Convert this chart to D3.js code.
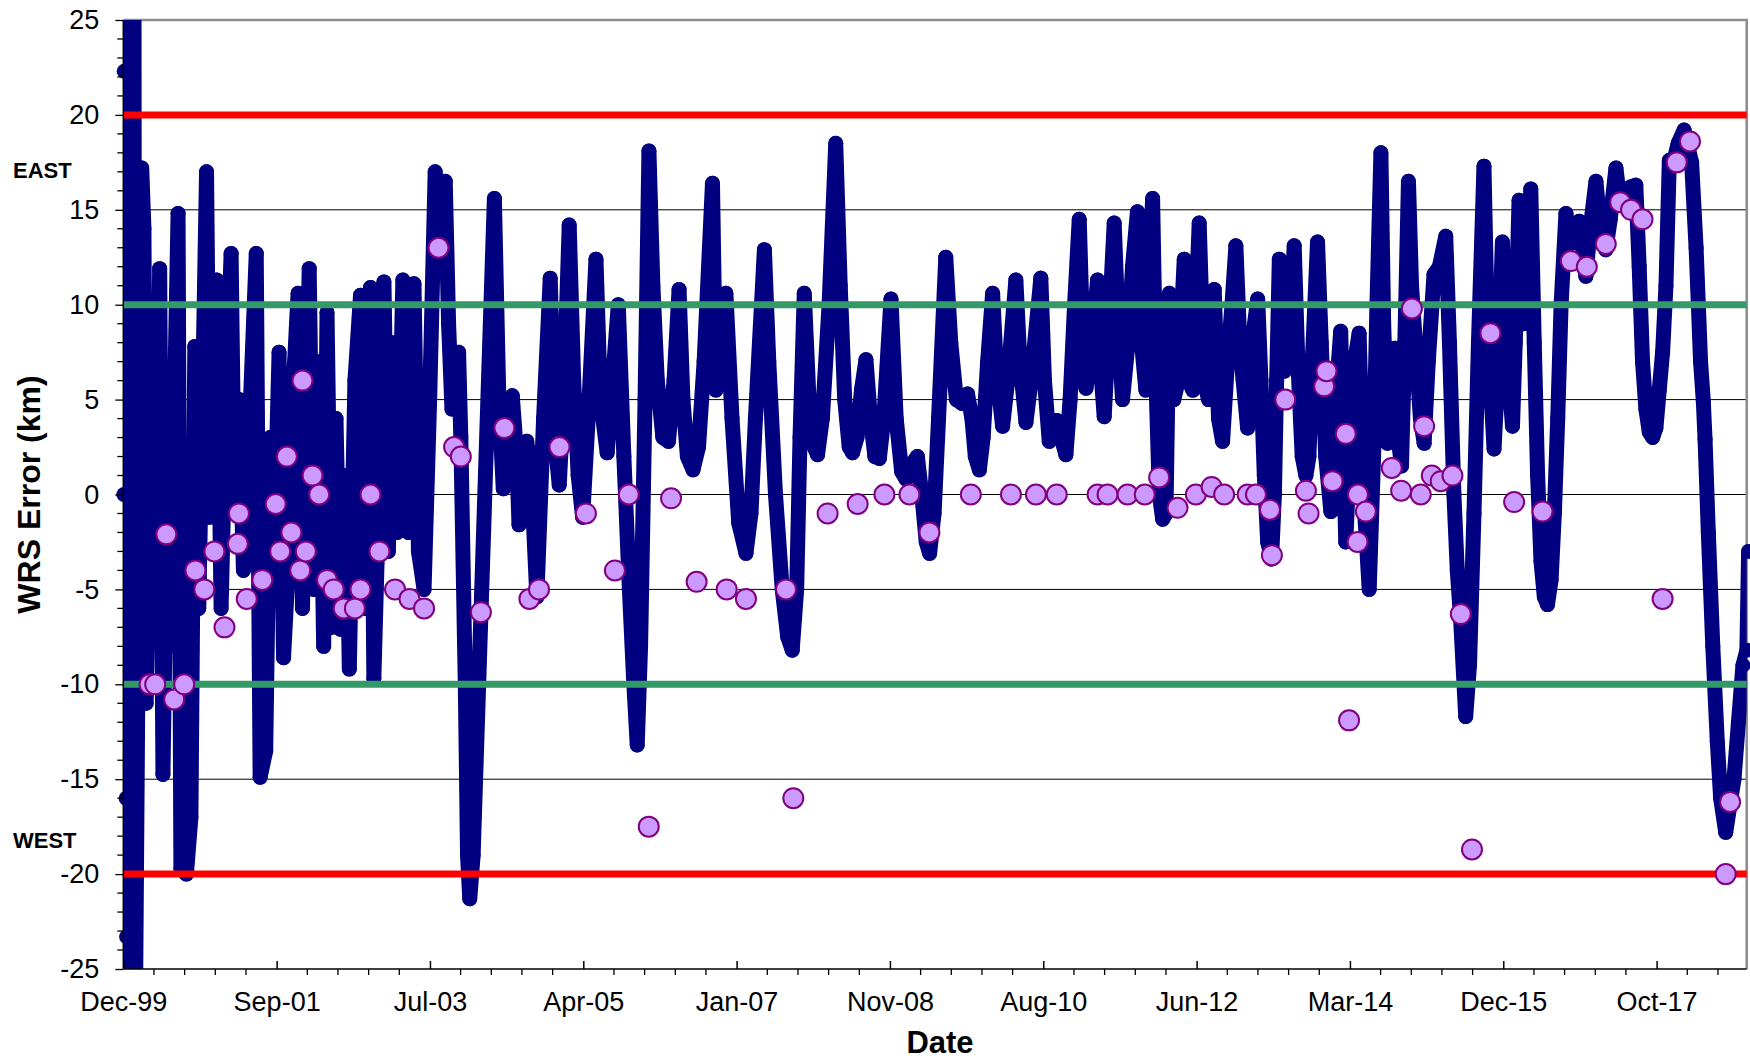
<!DOCTYPE html>
<html><head><meta charset="utf-8">
<script src="https://cdn.jsdelivr.net/npm/d3@7"></script>
<style>
body{margin:0;background:#fff;}
svg{display:block;}
text{font-family:"Liberation Sans",Arial,Helvetica,sans-serif;}
</style>
</head><body>
<svg id="chart" width="1750" height="1061"></svg>
<script>
// ---------------- DATA ----------------
const xTickLabels = ["Dec-99","Sep-01","Jul-03","Apr-05","Jan-07","Nov-08","Aug-10","Jun-12","Mar-14","Dec-15","Oct-17"];
const yTickValues = [-25,-20,-15,-10,-5,0,5,10,15,20,25];
const redLimits = [20,-20];
const greenLimits = [10,-10];
const sideLabels = ["EAST","WEST"];
const sideLabelValues = [16.7,-18.65];

// [decimal year, WRS error km]
const navyData = [
[1999.968,0],[1999.972,22.3],[1999.981,45],[1999.994,-16],[2000.000,-23.3],[2000.007,-45],[2000.046,45],[2000.072,-45],[2000.085,30],[2000.098,-30],
[2000.175,17.2],[2000.201,14],[2000.227,-11],[2000.279,3],[2000.318,-7],[2000.383,11.9],[2000.421,-14.75],[2000.473,1],[2000.512,-8],[2000.551,4],
[2000.596,14.8],[2000.629,-19.7],[2000.693,-20],[2000.745,-17],[2000.790,7.8],[2000.836,-6],[2000.875,4],[2000.926,17.0],[2000.965,-1.2],[2001.004,8],
[2001.043,11.3],[2001.095,-6],[2001.147,4],[2001.211,12.7],[2001.250,-1],[2001.302,5],[2001.354,-4],[2001.419,3],[2001.503,12.7],[2001.548,-14.9],
[2001.613,-13.5],[2001.665,3],[2001.703,-4],[2001.768,7.5],[2001.820,-8.6],[2001.885,-3],[2001.937,6],[2001.989,10.6],[2002.040,-6],[2002.118,11.9],
[2002.170,-5],[2002.234,7],[2002.286,-8],[2002.325,9.6],[2002.377,-7],[2002.429,4],[2002.481,-7.1],[2002.545,1],[2002.584,-9.2],[2002.649,6],
[2002.714,10.5],[2002.765,-6],[2002.830,10.9],[2002.869,-9.7],[2002.934,1],[2002.986,11.2],[2003.037,-3],[2003.102,8],[2003.141,-2],[2003.206,11.3],
[2003.271,-2],[2003.335,11.1],[2003.387,-3],[2003.452,-5],[2003.517,5],[2003.581,17],[2003.633,14],[2003.698,16.5],[2003.737,9],[2003.776,4.5],
[2003.815,5],[2003.853,7.5],[2003.879,3],[2003.931,-10],[2003.957,-19],[2003.983,-21.3],[2004.022,-19],[2004.268,15.6],[2004.320,5],[2004.371,0.3],
[2004.423,1],[2004.475,5.2],[2004.527,2],[2004.553,-1.6],[2004.591,1.5],[2004.643,2.8],[2004.695,1],[2004.760,-5.4],[2004.838,4],[2004.915,11.4],
[2004.967,3],[2005.019,0.5],[2005.071,5],[2005.135,14.2],[2005.187,6],[2005.239,1],[2005.291,-1.2],[2005.355,4],[2005.446,12.4],[2005.498,5],
[2005.576,2.2],[2005.640,6],[2005.705,10],[2005.770,2],[2005.834,-5],[2005.886,-10],[2005.925,-13.2],[2005.964,-8],[2006.016,5],[2006.061,18.1],
[2006.107,11],[2006.158,6],[2006.223,3],[2006.288,2.8],[2006.353,6],[2006.411,10.8],[2006.456,5],[2006.508,2],[2006.573,1.3],[2006.637,2.5],
[2006.702,7],[2006.799,16.4],[2006.838,5.5],[2006.884,7],[2006.955,10.6],[2007.026,4],[2007.104,-1.5],[2007.188,-3.1],[2007.246,-1],[2007.298,4],
[2007.402,12.9],[2007.453,7],[2007.531,0],[2007.609,-5],[2007.673,-7.5],[2007.725,-8.2],[2007.777,-5],[2007.816,3],[2007.865,10.6],[2007.920,5],
[2007.971,2.6],[2008.019,2.1],[2008.075,4],[2008.153,10],[2008.230,18.5],[2008.282,11],[2008.334,5],[2008.386,2.5],[2008.425,2.2],[2008.476,3],
[2008.528,5.5],[2008.580,7.1],[2008.632,4],[2008.684,2],[2008.735,1.9],[2008.787,4],[2008.870,10.3],[2008.930,4],[2008.994,1.2],[2009.046,0.8],
[2009.111,1.6],[2009.176,2],[2009.227,0],[2009.279,-2.5],[2009.318,-3.1],[2009.370,-1],[2009.422,4],[2009.506,12.5],[2009.564,8],[2009.629,5],
[2009.694,4.8],[2009.758,5.3],[2009.810,4],[2009.849,2],[2009.896,1.3],[2009.940,3],[2009.992,7],[2010.050,10.6],[2010.095,6.5],[2010.166,3.6],
[2010.225,6],[2010.320,11.3],[2010.367,7],[2010.437,3.8],[2010.497,6],[2010.610,11.4],[2010.652,6],[2010.708,2.8],[2010.756,3.2],[2010.795,3.9],
[2010.846,3],[2010.901,2.1],[2010.950,5],[2011.002,10],[2011.056,14.5],[2011.092,9],[2011.134,5.6],[2011.183,7],[2011.269,11.3],[2011.300,7],
[2011.346,4.1],[2011.403,9],[2011.462,14.3],[2011.507,9],[2011.559,5],[2011.623,8],[2011.675,12],[2011.732,14.9],[2011.779,8],[2011.830,5.5],
[2011.869,11],[2011.908,15.6],[2011.947,6],[2011.986,0],[2012.025,-1.3],[2012.063,-1.0],[2012.102,10.6],[2012.154,5],[2012.206,6],[2012.275,12.4],
[2012.323,6],[2012.374,5.5],[2012.448,14.3],[2012.504,6],[2012.556,5],[2012.622,10.8],[2012.672,4],[2012.719,2.8],[2012.776,7],[2012.828,10],
[2012.873,13.1],[2012.918,8],[2012.957,6],[2013.009,3.5],[2013.061,8],[2013.126,10.3],[2013.164,6],[2013.203,1],[2013.242,-2.5],[2013.287,-3.4],
[2013.320,0],[2013.346,6],[2013.377,12.4],[2013.436,6.5],[2013.488,7.5],[2013.550,13.1],[2013.592,7],[2013.643,2],[2013.686,1.0],[2013.721,2],
[2013.760,7],[2013.821,13.3],[2013.864,8],[2013.916,2],[2013.976,-0.9],[2014.032,5],[2014.090,8.6],[2014.123,2],[2014.149,-2.5],[2014.201,3],
[2014.252,7],[2014.304,8.5],[2014.356,0],[2014.421,-5],[2014.472,2],[2014.511,10],[2014.557,18],[2014.589,9],[2014.633,2.7],[2014.680,4],
[2014.718,7.7],[2014.757,3],[2014.796,1.5],[2014.835,8],[2014.877,16.5],[2014.913,11],[2014.964,7.5],[2015.016,4],[2015.059,2.7],[2015.107,7],
[2015.174,11.6],[2015.236,12],[2015.310,13.6],[2015.353,8],[2015.405,0],[2015.444,-4],[2015.482,-6.5],[2015.542,-11.7],[2015.586,-9],[2015.638,-1],
[2015.690,8],[2015.754,17.3],[2015.793,9],[2015.871,2.4],[2015.923,7],[2015.968,13.3],[2016.013,8],[2016.085,3.6],[2016.117,8],[2016.161,15.5],
[2016.208,9],[2016.246,10],[2016.297,16.1],[2016.337,8],[2016.376,1],[2016.415,-3.5],[2016.454,-5.4],[2016.490,-5.8],[2016.532,-4.5],[2016.570,-1],
[2016.609,4],[2016.648,10],[2016.704,14.8],[2016.752,13.2],[2016.803,13.8],[2016.858,14.4],[2016.935,11.5],[2016.985,14],[2017.052,16.5],[2017.101,14],
[2017.166,12.9],[2017.218,14.5],[2017.284,17.2],[2017.334,15.3],[2017.399,15.5],[2017.451,16.2],[2017.515,16.3],[2017.554,12],[2017.593,7],[2017.632,4.5],
[2017.671,3.3],[2017.710,3],[2017.748,3.5],[2017.787,5.5],[2017.826,7.5],[2017.865,11],[2017.904,17.6],[2017.969,17.8],[2018.007,18.5],[2018.076,19.2],
[2018.111,18.5],[2018.163,17.5],[2018.215,13],[2018.267,7],[2018.299,4.9],[2018.319,2.9],[2018.357,-2],[2018.409,-8],[2018.461,-13],[2018.500,-16],
[2018.559,-17.8],[2018.603,-16.5],[2018.655,-15],[2018.707,-12],[2018.759,-9],[2018.805,-8.2],[2018.825,-3]
];

const lilacData = [
[2000.266,-10],[2000.331,-10],[2000.460,-2.1],[2000.551,-10.8],[2000.667,-10],[2000.797,-4],[2000.900,-5],[2001.017,-3],[2001.134,-7],[2001.302,-1],
[2001.289,-2.6],[2001.393,-5.5],[2001.574,-4.5],[2001.729,-0.5],[2001.781,-3],[2001.859,2],[2001.911,-2],[2002.014,-4],[2002.040,6],[2002.079,-3],
[2002.157,1],[2002.234,0],[2002.325,-4.5],[2002.403,-5],[2002.519,-6],[2002.649,-6],[2002.713,-5],[2002.830,0],[2002.934,-3],[2003.115,-5],
[2003.283,-5.5],[2003.452,-6],[2003.620,13],[2003.801,2.5],[2003.879,2],[2004.112,-6.2],[2004.384,3.5],[2004.674,-5.5],[2004.785,-5],[2005.023,2.5],
[2005.329,-1],[2005.666,-4],[2005.827,0],[2006.059,-17.5],[2006.318,-0.2],[2006.615,-4.6],[2006.964,-5],[2007.188,-5.5],[2007.653,-5],[2007.738,-16],
[2008.136,-1],[2008.484,-0.5],[2008.794,0],[2009.084,0],[2009.316,-2],[2009.797,0],[2010.263,0],[2010.553,0],[2010.795,0],[2011.269,0],
[2011.385,0],[2011.617,0],[2011.817,0],[2011.984,0.9],[2012.197,-0.7],[2012.409,0],[2012.592,0.4],[2012.737,0],[2013.009,0],[2013.106,0],
[2013.268,-0.8],[2013.291,-3.2],[2013.446,5],[2013.686,0.2],[2013.717,-1],[2013.898,5.7],[2013.925,6.5],[2013.995,0.7],[2014.149,3.2],[2014.187,-11.9],
[2014.286,-2.5],[2014.290,0],[2014.382,-0.9],[2014.683,1.4],[2014.792,0.2],[2014.917,9.8],[2015.020,0],[2015.059,3.6],[2015.148,1.0],[2015.252,0.7],
[2015.388,1.0],[2015.485,-6.3],[2015.615,-18.7],[2015.829,8.5],[2016.104,-0.4],[2016.433,-0.9],[2016.761,12.3],[2016.946,12],[2017.166,13.2],[2017.334,15.4],
[2017.459,15],[2017.593,14.5],[2017.826,-5.5],[2017.990,17.5],[2018.144,18.6],[2018.559,-20],[2018.610,-16.2]
];

// ---------------- CHART ----------------
const svg = d3.select("#chart");
const plot = {left:123.3, right:1746.7, top:20, bottom:969};
const axisStart = new Date(1999, 11, 18);
const majorDays = 650, minorDays = 130;
const axisEnd = d3.timeDay.offset(axisStart, 6882);

function yearToDate(yv){
  const yr = Math.floor(yv);
  const s = new Date(yr,0,1), e = new Date(yr+1,0,1);
  return new Date(+s + (yv-yr)*(e-s));
}

const x = d3.scaleTime().domain([axisStart, axisEnd]).range([plot.left, plot.right]);
const y = d3.scaleLinear().domain([-25,25]).range([plot.bottom, plot.top]);

const majorDates = xTickLabels.map((_,i)=>d3.timeDay.offset(axisStart, i*majorDays));
const minorDates = d3.range(0, 60).map(k=>d3.timeDay.offset(axisStart, k*minorDays))
  .filter((d,k)=> +d <= +axisEnd && k%5!==0);

// gridlines
svg.append("g").selectAll("line").data(yTickValues.filter(v=>Math.abs(v)<25)).join("line")
  .attr("x1", plot.left).attr("x2", plot.right)
  .attr("y1", d=>y(d)).attr("y2", d=>y(d))
  .attr("stroke", "#000").attr("stroke-width", 1);

// plot border (top/right grey)
svg.append("path")
  .attr("d", `M${plot.left},${plot.top}H${plot.right}V${plot.bottom}`)
  .attr("fill","none").attr("stroke","#8c8c8c").attr("stroke-width",2.5);

// clip
svg.append("clipPath").attr("id","clipPlot").append("rect")
  .attr("x", plot.left).attr("y", plot.top)
  .attr("width", plot.right-plot.left).attr("height", plot.bottom-plot.top);

const navyColor = "#000080";
const navyPts = navyData.map(d=>({date:yearToDate(d[0]), v:d[1]}));

const line = d3.line().x(d=>x(d.date)).y(d=>y(d.v));
svg.append("path").datum(navyPts)
  .attr("clip-path","url(#clipPlot)")
  .attr("d", line)
  .attr("fill","none").attr("stroke", navyColor)
  .attr("stroke-width", 15).attr("stroke-linejoin","round").attr("stroke-linecap","round");

svg.append("g").selectAll("circle").data(navyPts.filter(d=>Math.abs(d.v)<=25)).join("circle")
  .attr("cx", d=>x(d.date)).attr("cy", d=>y(d.v)).attr("r", 7.5)
  .attr("fill", navyColor);

// limit lines
svg.append("g").selectAll("line").data(greenLimits).join("line")
  .attr("x1", plot.left).attr("x2", plot.right)
  .attr("y1", d=>y(d)).attr("y2", d=>y(d))
  .attr("stroke", "#339966").attr("stroke-width", 7);
svg.append("g").selectAll("line").data(redLimits).join("line")
  .attr("x1", plot.left).attr("x2", plot.right)
  .attr("y1", d=>y(d)).attr("y2", d=>y(d))
  .attr("stroke", "#ff0000").attr("stroke-width", 7);

// lilac points
svg.append("g").selectAll("circle").data(lilacData).join("circle")
  .attr("cx", d=>x(yearToDate(d[0]))).attr("cy", d=>y(d[1])).attr("r", 10)
  .attr("fill", "#cc99ff").attr("stroke", "#800080").attr("stroke-width", 2);

// Y axis
const yAxis = d3.axisLeft(y).tickValues(yTickValues).tickSize(8).tickPadding(16).tickFormat(d=>String(d));
const gy = svg.append("g").attr("transform", `translate(${plot.left},0)`).call(yAxis);
gy.select(".domain").remove();
gy.selectAll(".tick line").attr("stroke","#000").attr("stroke-width",1.3);
gy.selectAll("text").attr("font-size", 27).attr("fill","#000")
  .style("font-family",'"Liberation Sans",Arial,sans-serif');
svg.append("g").selectAll("line").data(d3.range(-25,26).filter(v=>v%5!==0)).join("line")
  .attr("x1", plot.left-6).attr("x2", plot.left)
  .attr("y1", d=>y(d)).attr("y2", d=>y(d))
  .attr("stroke","#000").attr("stroke-width",1.3);
svg.append("line").attr("x1",plot.left).attr("x2",plot.left).attr("y1",plot.top).attr("y2",plot.bottom)
  .attr("stroke","#000").attr("stroke-width",1.5);

// X axis
const xAxis = d3.axisBottom(x).tickValues(majorDates).tickSizeInner(-8).tickSizeOuter(0)
  .tickFormat((d,i)=>xTickLabels[i]);
const gx = svg.append("g").attr("transform", `translate(0,${plot.bottom})`).call(xAxis);
gx.select(".domain").remove();
gx.selectAll(".tick line").attr("stroke","#000").attr("stroke-width",1.5);
gx.selectAll("text").attr("y", 42).attr("dy", 0).attr("font-size", 27).attr("fill","#000")
  .style("font-family",'"Liberation Sans",Arial,sans-serif');
svg.append("g").selectAll("line").data(minorDates).join("line")
  .attr("x1", d=>x(d)).attr("x2", d=>x(d))
  .attr("y1", plot.bottom).attr("y2", plot.bottom+6)
  .attr("stroke","#000").attr("stroke-width",1.3);
svg.append("line").attr("x1",plot.left).attr("x2",plot.right).attr("y1",plot.bottom).attr("y2",plot.bottom)
  .attr("stroke","#000").attr("stroke-width",1.5);

// side labels
svg.append("g").selectAll("text").data(sideLabels).join("text")
  .attr("x", 13).attr("y", (d,i)=>y(sideLabelValues[i]))
  .attr("font-size", 22).attr("font-weight","bold").attr("fill","#000")
  .text(d=>d);

// axis titles
svg.append("text").attr("transform", `translate(40,${(plot.top+plot.bottom)/2}) rotate(-90)`)
  .attr("text-anchor","middle").attr("font-size",32).attr("font-weight","bold").attr("fill","#000")
  .text("WRS Error (km)");
svg.append("text").attr("x", 940).attr("y", 1053)
  .attr("text-anchor","middle").attr("font-size",31).attr("font-weight","bold").attr("fill","#000")
  .text("Date");
</script>
</body></html>
